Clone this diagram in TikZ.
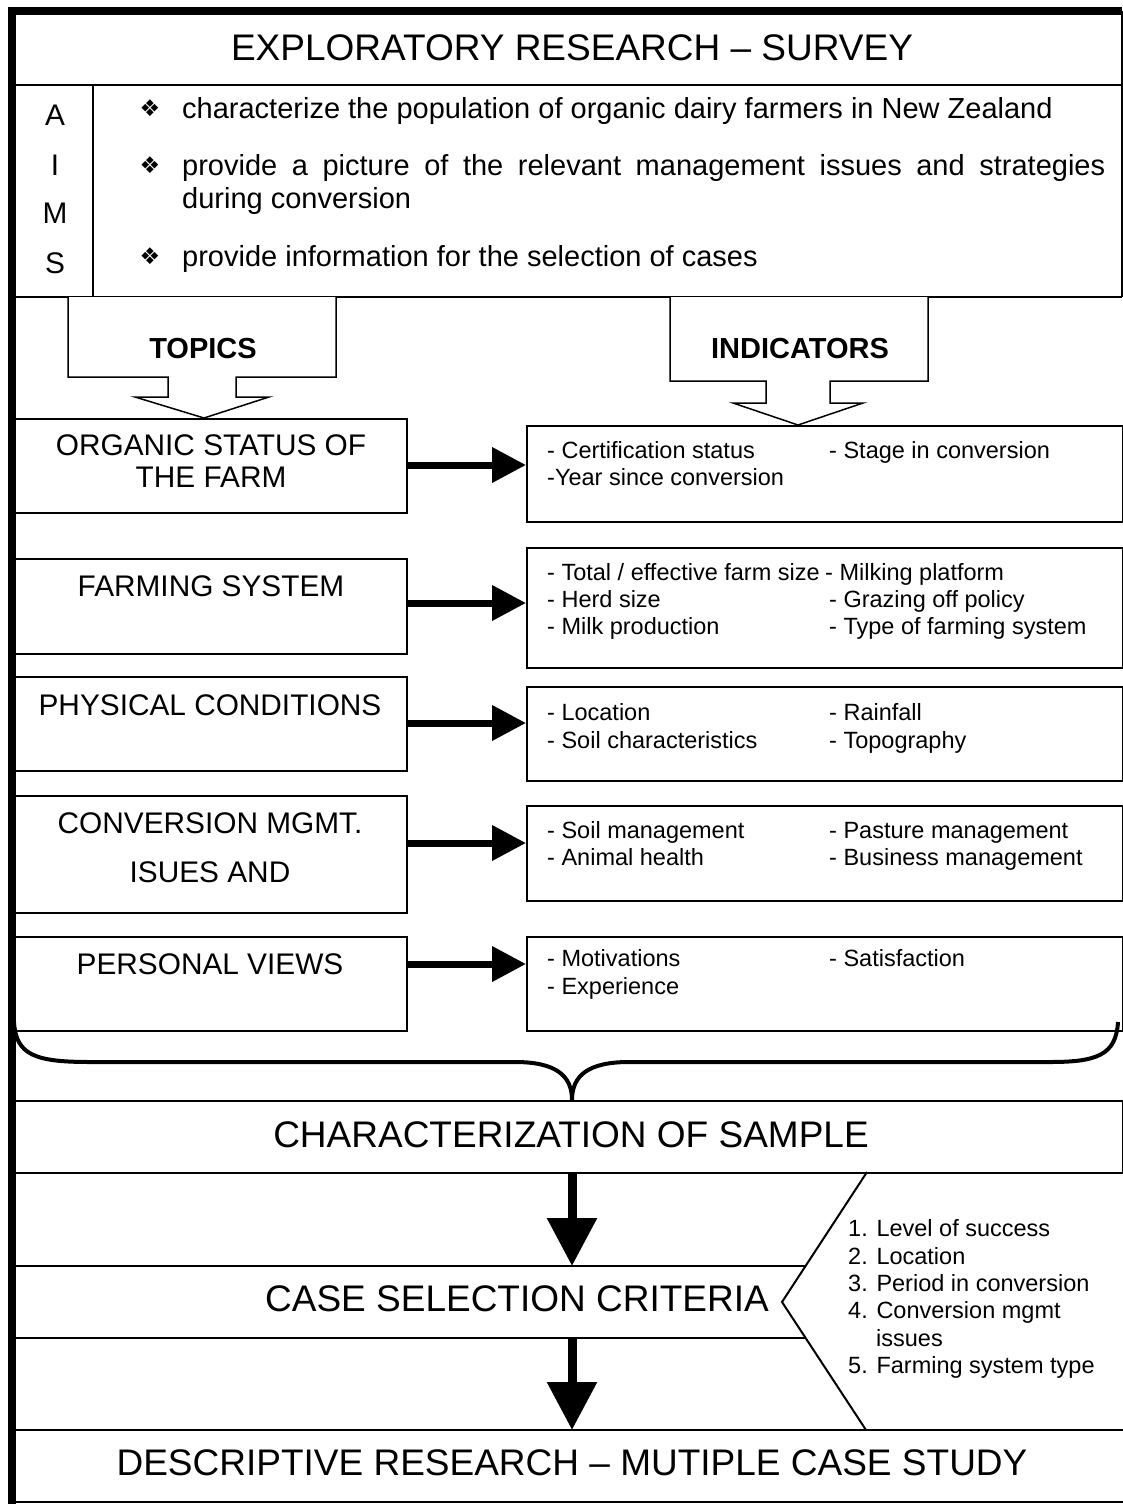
\documentclass[tikz,border=0pt]{standalone}
\usepackage{fontspec}
\setmainfont{Liberation Sans}
\newfontfamily\symfont{DejaVu Sans}
\usetikzlibrary{arrows.meta,calc}
\begin{document}
\begin{tikzpicture}[x=1pt,y=-1pt,
  rule/.style={line width=2pt},
  boxstyle/.style={draw, line width=2pt, inner sep=0pt, anchor=north west},
  capc/.style={inner sep=0pt, text depth=0pt},
  txbig/.style={capc, font=\fontsize{37}{43}\selectfont, text height=26.5pt},
  txmid/.style={capc, font=\fontsize{29.8}{34}\selectfont, text height=21.3pt},
  txmidb/.style={capc, font=\bfseries\fontsize{29}{34}\selectfont, text height=20.8pt},
  txaim/.style={capc, anchor=west, font=\fontsize{29}{34}\selectfont, text height=20.8pt},
  txsmall/.style={capc, anchor=west, font=\fontsize{23.5}{27}\selectfont, text height=16.9pt},
  txcrit/.style={capc, anchor=west, font=\fontsize{23.5}{27}\selectfont, text height=16.9pt},
  bul/.style={inner sep=0pt, font=\symfont\fontsize{23}{26}\selectfont},
  hconn/.style={line width=7pt, -{Triangle[length=34pt,width=34pt]}},
  vconn/.style={line width=9pt, -{Triangle[length=48pt,width=48pt]}},
  blockarrow/.style={draw, line width=1.5pt, fill=white, line join=miter}
]
\fill[white] (0,0) rectangle (1123,1504);
\useasboundingbox (0,0) rectangle (1123,1504);

% outer frame
\draw[line width=8pt] (11.5,1504) -- (11.5,11.5) -- (1122,11.5);
\draw[rule] (1122,11.5) -- (1122,297);
\draw[rule] (14,85) -- (1122,85);
\draw[rule] (14,297) -- (1122,297);
\draw[rule] (93,85) -- (93,297);

% header
\node[txbig] (hdr) at (572,47) {EXPLORATORY RESEARCH -- SURVEY};

% aims
\node[txmid] (la) at (55,115) {A};
\node[txmid] (li) at (55,165) {I};
\node[txmid] (lm) at (55,213) {M};
\node[txmid] (ls) at (55,263) {S};
\node[bul] (b1) at (150,108) {❖};
\node[bul] (b2) at (150,165) {❖};
\node[bul] (b3) at (150,256) {❖};
\node[txaim] (a1) at (182,108) {characterize the population of organic dairy farmers in New Zealand};
\node[txaim] (a2) at (182,165) {\makebox[923pt][s]{provide a picture of the relevant management issues and strategies}};
\node[txaim] (a2b) at (182,198) {during conversion};
\node[txaim] (a3) at (182,256) {provide information for the selection of cases};

% block arrows
\draw[blockarrow] (68,297) -- (68,377) -- (168,377) -- (168,397) -- (135,397) -- (204,418)
  -- (269,397) -- (236,397) -- (236,377) -- (336,377) -- (336,297);
\node[txmidb] (topics) at (203,348) {TOPICS};
\draw[blockarrow] (670,297) -- (670,381) -- (766,381) -- (766,403) -- (733,403) -- (798,425)
  -- (863,403) -- (830,403) -- (830,381) -- (928,381) -- (928,297);
\node[txmidb] (indic) at (800,348) {INDICATORS};

% topic boxes
\node[boxstyle, minimum width=392pt, minimum height=94pt] (t1) at (14,418) {};
\node[boxstyle, minimum width=392pt, minimum height=95pt] (t2) at (14,558) {};
\node[boxstyle, minimum width=392pt, minimum height=94pt] (t3) at (14,676) {};
\node[boxstyle, minimum width=392pt, minimum height=117pt] (t4) at (14,795) {};
\node[boxstyle, minimum width=392pt, minimum height=94pt] (t5) at (14,936) {};
\node[txmid] at (211,445) {ORGANIC STATUS OF};
\node[txmid] at (211,477) {THE FARM};
\node[txmid] at (211,586) {FARMING SYSTEM};
\node[txmid] at (210,705) {PHYSICAL CONDITIONS};
\node[txmid] at (210,823) {CONVERSION MGMT.};
\node[txmid] at (210,872) {ISUES AND};
\node[txmid] at (210,964) {PERSONAL VIEWS};

% indicator boxes
\node[boxstyle, minimum width=596pt, minimum height=96pt] (i1) at (526,425) {};
\node[boxstyle, minimum width=596pt, minimum height=120pt] (i2) at (526,547) {};
\node[boxstyle, minimum width=596pt, minimum height=94pt] (i3) at (526,686) {};
\node[boxstyle, minimum width=596pt, minimum height=95pt] (i4) at (526,805) {};
\node[boxstyle, minimum width=596pt, minimum height=94pt] (i5) at (526,936) {};

\node[txsmall] at (547,450) {- Certification status};
\node[txsmall] at (829,450) {- Stage in conversion};
\node[txsmall] at (547,477) {-Year since conversion};
\node[txsmall] at (547,572) {- Total / effective farm size};
\node[txsmall] at (825,572) {- Milking platform};
\node[txsmall] at (547,599) {- Herd size};
\node[txsmall] at (829,599) {- Grazing off policy};
\node[txsmall] at (547,626) {- Milk production};
\node[txsmall] at (829,626) {- Type of farming system};
\node[txsmall] at (547,712) {- Location};
\node[txsmall] at (829,712) {- Rainfall};
\node[txsmall] at (547,740) {- Soil characteristics};
\node[txsmall] at (829,740) {- Topography};
\node[txsmall] at (547,830) {- Soil management};
\node[txsmall] at (829,830) {- Pasture management};
\node[txsmall] at (547,857) {- Animal health};
\node[txsmall] at (829,857) {- Business management};
\node[txsmall] at (547,958) {- Motivations};
\node[txsmall] at (829,958) {- Satisfaction};
\node[txsmall] at (547,986) {- Experience};

% topic -> indicator connectors
\draw[hconn] (t1.east |- 0,465) -- (i1.west |- 0,465);
\draw[hconn] (t2.east |- 0,603) -- (i2.west |- 0,603);
\draw[hconn] (t3.east |- 0,723) -- (i3.west |- 0,723);
\draw[hconn] (t4.east |- 0,843) -- (i4.west |- 0,843);
\draw[hconn] (t5.east |- 0,964) -- (i5.west |- 0,964);

% brace
\draw[line width=4pt] (14,1022) .. controls (16,1055) and (35,1062) .. (90,1062) -- (515,1062)
  .. controls (555,1062) and (572,1075) .. (572,1100);
\draw[line width=4pt] (1118,1022) .. controls (1116,1055) and (1097,1062) .. (1050,1062) -- (629,1062)
  .. controls (589,1062) and (572,1075) .. (572,1100);

% characterization
\node[boxstyle, minimum width=1108pt, minimum height=72pt] (chr) at (14,1100) {};
\node[txbig] (chrt) at (571,1134) {CHARACTERIZATION OF SAMPLE};

% case selection
\coordinate (cstop) at (572,1266);
\coordinate (csbot) at (572,1338);
\coordinate (drtop) at (572,1430);
\draw[rule] (14,1266) -- (805,1266);
\draw[rule] (14,1338) -- (805,1338);
\node[txbig] (cst) at (517,1298) {CASE SELECTION CRITERIA};
\draw[rule, line join=miter] (867,1172) -- (782,1302) -- (866,1430);
\node[txcrit] at (848,1228) {1. Level of success};
\node[txcrit] at (848,1256) {2. Location};
\node[txcrit] at (848,1283) {3. Period in conversion};
\node[txcrit] at (848,1310) {4. Conversion mgmt};
\node[txcrit] at (876,1338) {issues};
\node[txcrit] at (848,1365) {5. Farming system type};

% descriptive
\draw[rule] (14,1430) -- (1123,1430);
\draw[rule] (14,1502) -- (1123,1502);
\node[txbig] (dr) at (572,1462) {DESCRIPTIVE RESEARCH -- MUTIPLE CASE STUDY};

% vertical connectors
\draw[vconn] (chr.south -| cstop) -- (cstop);
\draw[vconn] (csbot) -- (drtop);
\end{tikzpicture}
\end{document}
